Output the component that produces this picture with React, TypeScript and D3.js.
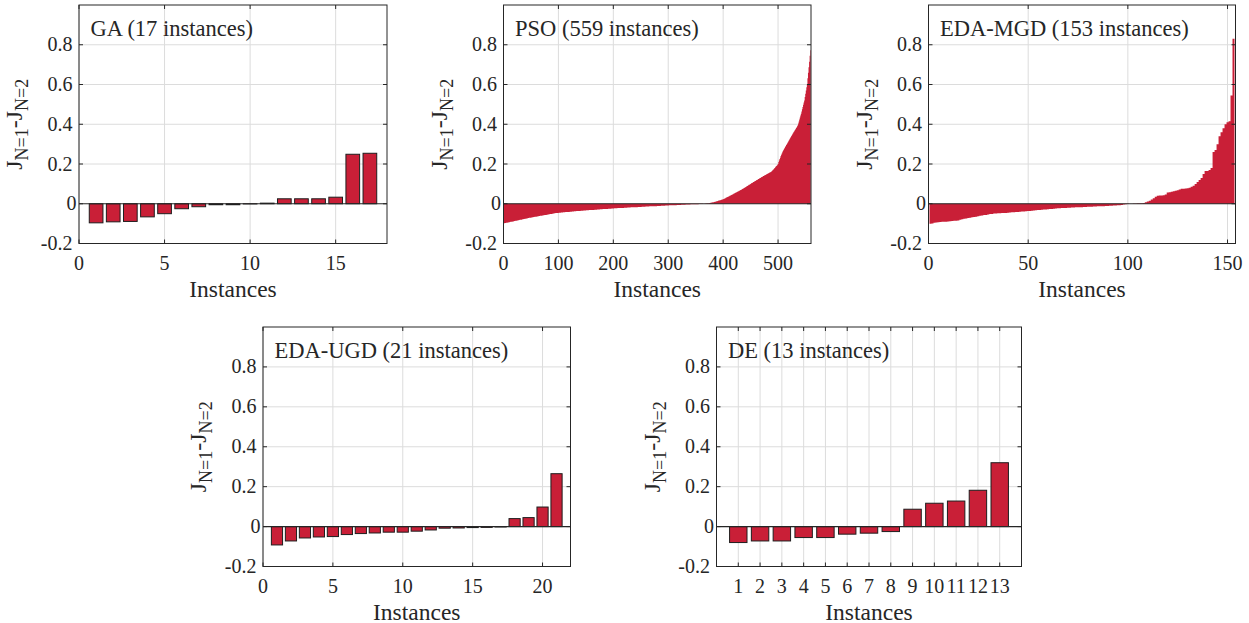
import React from 'react';
import * as d3 from 'd3';

// ---------- data ----------
const gaValues = [-0.096, -0.091, -0.089, -0.066, -0.050, -0.025, -0.015, -0.005, -0.005, -0.001, 0.003, 0.025, 0.025, 0.025, 0.033, 0.249, 0.254];

const psoValues = [
  -0.098, -0.098, -0.097, -0.097, -0.096, -0.095, -0.095, -0.094, -0.094, -0.093,
  -0.093, -0.092, -0.091, -0.091, -0.090, -0.090, -0.089, -0.089, -0.088, -0.087,
  -0.087, -0.086, -0.086, -0.085, -0.084, -0.084, -0.083, -0.083, -0.082, -0.081,
  -0.081, -0.080, -0.080, -0.079, -0.078, -0.078, -0.077, -0.077, -0.076, -0.075,
  -0.075, -0.074, -0.074, -0.073, -0.072, -0.072, -0.071, -0.071, -0.070, -0.070,
  -0.069, -0.069, -0.068, -0.068, -0.067, -0.067, -0.066, -0.066, -0.065, -0.065,
  -0.064, -0.064, -0.063, -0.063, -0.062, -0.062, -0.061, -0.061, -0.060, -0.060,
  -0.059, -0.059, -0.058, -0.058, -0.057, -0.057, -0.056, -0.056, -0.055, -0.055,
  -0.054, -0.054, -0.053, -0.053, -0.052, -0.052, -0.051, -0.051, -0.050, -0.050,
  -0.049, -0.049, -0.048, -0.048, -0.047, -0.047, -0.047, -0.046, -0.046, -0.046,
  -0.045, -0.045, -0.045, -0.045, -0.044, -0.044, -0.044, -0.044, -0.043, -0.043,
  -0.043, -0.043, -0.042, -0.042, -0.042, -0.042, -0.041, -0.041, -0.041, -0.041,
  -0.040, -0.040, -0.040, -0.040, -0.039, -0.039, -0.039, -0.039, -0.038, -0.038,
  -0.038, -0.038, -0.037, -0.037, -0.037, -0.037, -0.036, -0.036, -0.036, -0.036,
  -0.035, -0.035, -0.035, -0.035, -0.035, -0.034, -0.034, -0.034, -0.034, -0.034,
  -0.033, -0.033, -0.033, -0.033, -0.033, -0.032, -0.032, -0.032, -0.032, -0.032,
  -0.031, -0.031, -0.031, -0.031, -0.031, -0.030, -0.030, -0.030, -0.030, -0.030,
  -0.029, -0.029, -0.029, -0.029, -0.029, -0.028, -0.028, -0.028, -0.028, -0.028,
  -0.027, -0.027, -0.027, -0.027, -0.027, -0.026, -0.026, -0.026, -0.026, -0.026,
  -0.025, -0.025, -0.025, -0.025, -0.025, -0.025, -0.024, -0.024, -0.024, -0.024,
  -0.024, -0.023, -0.023, -0.023, -0.023, -0.023, -0.023, -0.022, -0.022, -0.022,
  -0.022, -0.022, -0.022, -0.021, -0.021, -0.021, -0.021, -0.021, -0.021, -0.020,
  -0.020, -0.020, -0.020, -0.020, -0.020, -0.019, -0.019, -0.019, -0.019, -0.019,
  -0.019, -0.018, -0.018, -0.018, -0.018, -0.018, -0.018, -0.017, -0.017, -0.017,
  -0.017, -0.017, -0.017, -0.017, -0.016, -0.016, -0.016, -0.016, -0.016, -0.016,
  -0.016, -0.015, -0.015, -0.015, -0.015, -0.015, -0.015, -0.015, -0.014, -0.014,
  -0.014, -0.014, -0.014, -0.014, -0.014, -0.013, -0.013, -0.013, -0.013, -0.013,
  -0.013, -0.013, -0.012, -0.012, -0.012, -0.012, -0.012, -0.012, -0.012, -0.011,
  -0.011, -0.011, -0.011, -0.011, -0.011, -0.011, -0.010, -0.010, -0.010, -0.010,
  -0.010, -0.010, -0.010, -0.010, -0.009, -0.009, -0.009, -0.009, -0.009, -0.009,
  -0.009, -0.008, -0.008, -0.008, -0.008, -0.008, -0.008, -0.008, -0.007, -0.007,
  -0.007, -0.007, -0.007, -0.007, -0.007, -0.006, -0.006, -0.006, -0.006, -0.006,
  -0.006, -0.006, -0.006, -0.005, -0.005, -0.005, -0.005, -0.005, -0.005, -0.005,
  -0.005, -0.004, -0.004, -0.004, -0.004, -0.004, -0.004, -0.004, -0.004, -0.004,
  -0.003, -0.003, -0.003, -0.003, -0.003, -0.003, -0.003, -0.002, -0.002, -0.002,
  -0.002, -0.002, -0.002, -0.002, -0.002, -0.001, -0.001, -0.001, -0.001, -0.001,
  -0.001, -0.001, -0.001, 0.000, 0.000, 0.000, 0.001, 0.001, 0.001, 0.002,
  0.002, 0.002, 0.003, 0.003, 0.004, 0.004, 0.005, 0.005, 0.006, 0.006,
  0.007, 0.008, 0.008, 0.009, 0.010, 0.010, 0.011, 0.012, 0.013, 0.014,
  0.015, 0.016, 0.016, 0.017, 0.018, 0.019, 0.020, 0.021, 0.022, 0.023,
  0.024, 0.025, 0.027, 0.028, 0.030, 0.031, 0.033, 0.034, 0.035, 0.037,
  0.038, 0.040, 0.041, 0.042, 0.044, 0.045, 0.047, 0.048,
  0.050, 0.051, 0.053, 0.054, 0.056, 0.057, 0.059, 0.060, 0.062, 0.063,
  0.065, 0.066, 0.068, 0.069, 0.071, 0.072, 0.074, 0.075,
  0.077, 0.079, 0.080, 0.082, 0.084, 0.086, 0.088, 0.089, 0.091, 0.093,
  0.095, 0.096, 0.098, 0.100, 0.102, 0.104, 0.105, 0.107,
  0.109, 0.110, 0.112, 0.114, 0.115, 0.117, 0.119, 0.120, 0.122, 0.124,
  0.125, 0.127, 0.129, 0.130, 0.132, 0.134, 0.135, 0.137,
  0.139, 0.140, 0.142, 0.143, 0.145, 0.146, 0.148, 0.150, 0.151, 0.153,
  0.154, 0.156, 0.157, 0.159, 0.160, 0.162,
  0.165, 0.168, 0.171, 0.174, 0.177, 0.180, 0.184, 0.187, 0.190, 0.193, 0.196, 0.200,
  0.210, 0.218, 0.225, 0.232, 0.240, 0.247, 0.253, 0.259, 0.265, 0.270,
  0.276, 0.281, 0.286, 0.290, 0.295,
  0.300, 0.305, 0.310, 0.315, 0.320, 0.325, 0.330, 0.334, 0.339, 0.344, 0.348, 0.353,
  0.358, 0.362, 0.367, 0.371, 0.376, 0.381, 0.385, 0.390, 0.395,
  0.404, 0.414, 0.424, 0.434, 0.444, 0.453,
  0.464, 0.475, 0.487, 0.498, 0.509, 0.520,
  0.537, 0.553, 0.570, 0.586, 0.603,
  0.631, 0.659, 0.687,
  0.715, 0.745, 0.772,
];

const mgdValues = [
  -0.100, -0.099, -0.096, -0.094, -0.093, -0.092, -0.091, -0.091, -0.090, -0.089,
  -0.088, -0.087, -0.086, -0.085, -0.084, -0.080, -0.078, -0.076, -0.074, -0.072,
  -0.070, -0.068, -0.067, -0.065, -0.063, -0.061, -0.059, -0.057, -0.056, -0.054,
  -0.052, -0.051, -0.049, -0.049, -0.048, -0.048, -0.047, -0.046, -0.046, -0.045,
  -0.044, -0.043, -0.043, -0.042, -0.041, -0.040, -0.039, -0.039, -0.038, -0.037,
  -0.036, -0.035, -0.034, -0.033, -0.032, -0.031, -0.030, -0.029, -0.029, -0.028,
  -0.027, -0.026, -0.025, -0.024, -0.023, -0.023, -0.022, -0.022, -0.021, -0.020,
  -0.020, -0.019, -0.019, -0.018, -0.018, -0.017, -0.017, -0.016, -0.016, -0.015,
  -0.015, -0.015, -0.014, -0.014, -0.013, -0.013, -0.012, -0.012, -0.011, -0.011,
  -0.010, -0.010, -0.009, -0.009, -0.008, -0.008, -0.006, -0.004, -0.003, -0.001,
  0.000, 0.000, 0.001, 0.001, 0.002, 0.002, 0.003, 0.004, 0.007, 0.011,
  0.015, 0.022, 0.028, 0.035, 0.040, 0.041, 0.042, 0.043, 0.047, 0.056,
  0.058, 0.060, 0.063, 0.066, 0.068, 0.072, 0.075, 0.076, 0.077, 0.078,
  0.080, 0.085, 0.090, 0.100, 0.110, 0.120, 0.130, 0.150, 0.165, 0.165,
  0.170, 0.180, 0.260, 0.270, 0.300, 0.340, 0.360, 0.380, 0.400, 0.410,
  0.415, 0.545, 0.830,
];

const ugdValues = [-0.092, -0.072, -0.057, -0.052, -0.050, -0.040, -0.035, -0.032, -0.028, -0.028, -0.023, -0.017, -0.008, -0.007, -0.005, -0.004, -0.002, 0.040, 0.045, 0.098, 0.265];

const deValues = [-0.080, -0.072, -0.072, -0.055, -0.055, -0.038, -0.033, -0.025, 0.087, 0.117, 0.128, 0.182, 0.320];

const yTicks = [-0.2, 0, 0.2, 0.4, 0.6, 0.8];
const gaXTicks = [0, 5, 10, 15];
const psoXTicks = [0, 100, 200, 300, 400, 500];
const mgdXTicks = [0, 50, 100, 150];
const ugdXTicks = [0, 5, 10, 15, 20];
const deXTicks = [1, 2, 3, 4, 5, 6, 7, 8, 9, 10, 11, 12, 13];

const titles = ['GA (17 instances)', 'PSO (559 instances)', 'EDA-MGD (153 instances)', 'EDA-UGD (21 instances)', 'DE (13 instances)'];

// ---------- layout / style ----------
const FONT = '"Liberation Serif", "DejaVu Serif", serif';
const TXT = '#262626';
const BAR = '#C91F37';
const GRID = '#dcdcdc';
const textStyle = (size: number): React.CSSProperties => ({ fontFamily: FONT, fontSize: size + 'px', fill: TXT });

type Panel = {
  title: string; values: number[]; xDomain: [number, number]; xTicks: number[];
  left: number; top: number; width: number; height: number; dense: boolean;
};

const panels: Panel[] = [
  { title: titles[0], values: gaValues, xDomain: [0, 18], xTicks: gaXTicks, left: 79, top: 5, width: 308, height: 238.5, dense: false },
  { title: titles[1], values: psoValues, xDomain: [0, 560], xTicks: psoXTicks, left: 503.5, top: 5, width: 307.5, height: 238.5, dense: true },
  { title: titles[2], values: mgdValues, xDomain: [0, 154], xTicks: mgdXTicks, left: 928.5, top: 5, width: 307, height: 238.5, dense: true },
  { title: titles[3], values: ugdValues, xDomain: [0, 22], xTicks: ugdXTicks, left: 263, top: 327, width: 307.5, height: 239.5, dense: false },
  { title: titles[4], values: deValues, xDomain: [0, 14], xTicks: deXTicks, left: 716.5, top: 327, width: 305, height: 239.5, dense: false },
];

function PanelView({ p }: { p: Panel }) {
  const x = d3.scaleLinear().domain(p.xDomain).range([p.left, p.left + p.width]);
  const y = d3.scaleLinear().domain([-0.2, 1]).range([p.top + p.height, p.top]);
  const bottom = p.top + p.height;
  const right = p.left + p.width;
  const bw = 0.8;
  const tickLen = 4;
  const fmt = (v: number) => (v === 0 ? '0' : v.toFixed(1));

  let densePath = '';
  if (p.dense) {
    const pts: [number, number][] = p.values.map((v, i) => [i + 0.5, v]);
    pts.push([p.values.length + 0.5, p.values[p.values.length - 1]]);
    const area = d3
      .area<[number, number]>()
      .curve(d3.curveStepAfter)
      .x((d) => x(d[0]))
      .y0(() => y(0))
      .y1((d) => y(d[1]));
    densePath = area(pts) || '';
  }

  return (
    <g>
      {p.xTicks.map((t) => (
        <line key={'gx' + t} x1={x(t)} x2={x(t)} y1={p.top} y2={bottom} stroke={GRID} strokeWidth={1} />
      ))}
      {yTicks.filter((t) => t !== 0).map((t) => (
        <line key={'gy' + t} x1={p.left} x2={right} y1={y(t)} y2={y(t)} stroke={GRID} strokeWidth={1} />
      ))}
      {p.dense ? (
        <path d={densePath} fill={BAR} stroke="none" />
      ) : (
        p.values.map((v, i) => {
          const c = i + 1;
          const x0 = x(c - bw / 2);
          const x1 = x(c + bw / 2);
          const y0 = y(Math.max(v, 0));
          const y1 = y(Math.min(v, 0));
          return <rect key={i} x={x0} y={y0} width={x1 - x0} height={Math.max(y1 - y0, 0.01)} fill={BAR} stroke="#1e1e1e" strokeWidth={1} />;
        })
      )}
      <line x1={p.left} x2={right} y1={y(0)} y2={y(0)} stroke={TXT} strokeWidth={1.2} />
      <rect x={p.left} y={p.top} width={p.width} height={p.height} fill="none" stroke={TXT} strokeWidth={1} />
      {p.xTicks.map((t) => (
        <g key={'tx' + t}>
          <line x1={x(t)} x2={x(t)} y1={bottom} y2={bottom - tickLen} stroke={TXT} />
          <line x1={x(t)} x2={x(t)} y1={p.top} y2={p.top + tickLen} stroke={TXT} />
        </g>
      ))}
      {yTicks.map((t) => (
        <g key={'ty' + t}>
          <line x1={p.left} x2={p.left + tickLen} y1={y(t)} y2={y(t)} stroke={TXT} />
          <line x1={right} x2={right - tickLen} y1={y(t)} y2={y(t)} stroke={TXT} />
        </g>
      ))}
      {p.xTicks.map((t) => (
        <text key={'lx' + t} x={x(t)} y={bottom + 26.5} textAnchor="middle" style={textStyle(20)}>{String(t)}</text>
      ))}
      {yTicks.map((t) => (
        <text key={'ly' + t} x={t === 0 ? p.left - 2.5 : p.left - 6.5} y={y(t) + 6.5} textAnchor="end" style={textStyle(20)}>{fmt(t)}</text>
      ))}
      <text x={p.left + 11.5} y={p.top + 31} style={textStyle(22.5)}>{p.title}</text>
      <text x={(p.left + right) / 2} y={bottom + 53} textAnchor="middle" style={textStyle(23.5)}>Instances</text>
      <text transform={`translate(${p.left - 57},${(p.top + bottom) / 2}) rotate(-90)`} textAnchor="middle" style={textStyle(24)}>
        J<tspan dy={6} style={{ fontSize: '18px' }}>N=1</tspan><tspan dy={-6}>-J</tspan><tspan dy={6} style={{ fontSize: '18px' }}>N=2</tspan>
      </text>
    </g>
  );
}

export default function App() {
  return (
    <svg width={1249} height={623} style={{ position: 'absolute', left: 0, top: 0, background: '#fff' }}>
      <rect x={0} y={0} width={1249} height={623} fill="#fff" />
      {panels.map((p) => (
        <PanelView key={p.title} p={p} />
      ))}
    </svg>
  );
}
